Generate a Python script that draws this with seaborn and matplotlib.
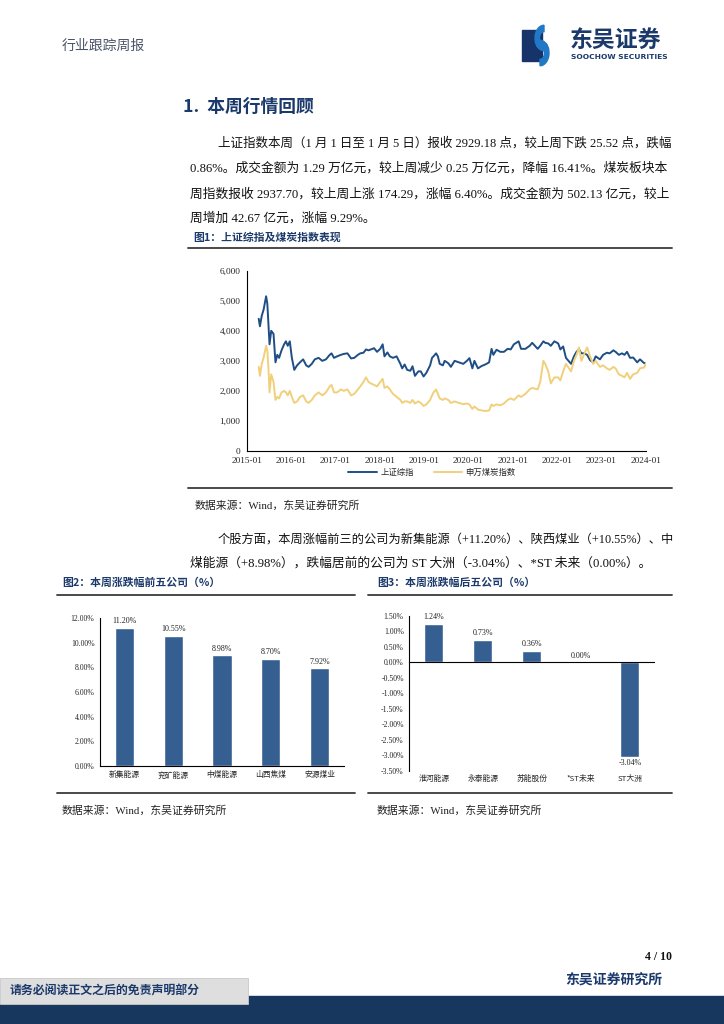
import matplotlib
matplotlib.use('Agg')
import matplotlib.pyplot as plt
import matplotlib.dates as mdates
from matplotlib.patches import Rectangle, Wedge
import seaborn as sns
import pandas as pd
import numpy as np

# --- dados ---
dates = ['2015-04-10', '2015-04-20', '2015-05-05', '2015-05-20', '2015-06-10', '2015-06-20',
         '2015-07-01', '2015-07-08', '2015-07-22', '2015-08-10', '2015-08-26', '2015-09-10',
         '2015-09-25', '2015-10-15', '2015-11-05', '2015-11-20', '2015-12-05', '2015-12-22',
         '2016-01-08', '2016-01-28', '2016-02-20', '2016-03-15', '2016-04-10', '2016-05-05',
         '2016-05-25', '2016-06-20', '2016-07-15', '2016-08-15', '2016-09-15', '2016-10-15',
         '2016-11-15', '2016-11-30', '2016-12-20', '2017-01-15', '2017-02-15', '2017-03-10',
         '2017-04-10', '2017-05-10', '2017-06-05', '2017-07-05', '2017-07-25', '2017-08-20',
         '2017-09-10', '2017-09-30', '2017-10-20', '2017-11-15', '2017-12-10', '2018-01-05',
         '2018-01-25', '2018-02-09', '2018-03-05', '2018-03-25', '2018-04-20', '2018-05-20',
         '2018-06-20', '2018-07-05', '2018-07-25', '2018-08-15', '2018-09-10', '2018-09-28',
         '2018-10-18', '2018-11-15', '2018-12-05', '2018-12-28', '2019-01-20', '2019-02-20',
         '2019-03-08', '2019-03-20', '2019-04-10', '2019-04-25', '2019-05-10', '2019-06-05',
         '2019-06-20', '2019-07-20', '2019-08-10', '2019-09-10', '2019-10-15', '2019-11-20',
         '2019-12-20', '2020-01-10', '2020-02-03', '2020-02-20', '2020-03-20', '2020-04-20',
         '2020-05-20', '2020-06-20', '2020-07-10', '2020-07-25', '2020-08-20', '2020-09-20',
         '2020-10-20', '2020-11-20', '2020-12-15', '2021-01-10', '2021-02-18', '2021-03-10',
         '2021-04-15', '2021-05-20', '2021-06-10', '2021-07-25', '2021-08-15', '2021-09-10',
         '2021-09-25', '2021-10-20', '2021-11-10', '2021-12-10', '2022-01-10', '2022-01-28',
         '2022-02-20', '2022-03-15', '2022-04-26', '2022-05-20', '2022-06-10', '2022-07-01',
         '2022-07-20', '2022-08-15', '2022-09-05', '2022-09-30', '2022-10-25', '2022-11-15',
         '2022-12-20', '2023-01-15', '2023-02-15', '2023-03-10', '2023-04-10', '2023-04-28',
         '2023-05-25', '2023-06-20', '2023-07-10', '2023-07-31', '2023-08-25', '2023-09-20',
         '2023-10-23', '2023-11-15', '2023-12-20', '2024-01-05']

sh_index = [4400, 4150, 4500, 4700, 5150, 4900,
            4100, 3550, 4000, 3900, 2950, 3200,
            3100, 3350, 3550, 3650, 3500, 3650,
            3100, 2700, 2850, 2950, 3050, 2850,
            2800, 2900, 3050, 3100, 3000, 3050,
            3200, 3250, 3100, 3150, 3200, 3230,
            3250, 3080, 3100, 3200, 3250, 3270,
            3380, 3350, 3380, 3420, 3300, 3400,
            3550, 3150, 3280, 3150, 3100, 3150,
            2900, 2750, 2880, 2700, 2670, 2820,
            2500, 2650, 2650, 2480, 2600, 2850,
            3100, 3150, 3250, 3150, 2900, 2850,
            3000, 2920, 2800, 3000, 2950, 2900,
            3000, 3090, 2750, 3000, 2750, 2830,
            2880, 2950, 3400, 3200, 3370, 3300,
            3300, 3400, 3380, 3550, 3650, 3400,
            3400, 3500, 3600, 3400, 3500, 3650,
            3600, 3580, 3500, 3650, 3580, 3380,
            3480, 3100, 2900, 3150, 3300, 3380,
            3250, 3250, 3200, 3020, 2950, 3150,
            3050, 3200, 3270, 3250, 3350, 3300,
            3200, 3250, 3200, 3300, 3100, 3110,
            2950, 3050, 2920, 2929]

coal_index = [2800, 2500, 2900, 3100, 3500, 3350,
              2600, 1950, 2550, 2300, 1700, 1800,
              1750, 1950, 2000, 1950, 1850, 2000,
              1800, 1600, 1650, 1800, 1850, 1650,
              1600, 1700, 1850, 1950, 1850, 1950,
              2150, 2200, 1950, 1950, 2050, 2000,
              2050, 1850, 1900, 2050, 2150, 2300,
              2450, 2300, 2250, 2200, 2150, 2300,
              2400, 2100, 2150, 2050, 1900, 1800,
              1700, 1600, 1650, 1650, 1600, 1700,
              1580, 1650, 1600, 1500, 1550, 1700,
              1850, 1950, 2050, 1900, 1750, 1700,
              1750, 1700, 1600, 1650, 1600, 1560,
              1580, 1550, 1400, 1480, 1380, 1350,
              1330, 1350, 1550, 1500, 1550, 1520,
              1580, 1700, 1750, 1700, 1850, 1800,
              1900, 2050, 2100, 2050, 2300, 3000,
              2900, 2650, 2250, 2450, 2450, 2350,
              2650, 2900, 2650, 3000, 3200, 3450,
              3000, 3250, 3450, 3150, 2900, 3000,
              2800, 2850, 2750, 2700, 2800, 2750,
              2550, 2500, 2450, 2600, 2400, 2550,
              2600, 2750, 2780, 2938]

top5_names = ['新集能源', '兖矿能源', '中煤能源', '山西焦煤', '安源煤业']
top5_pct = [11.20, 10.55, 8.98, 8.70, 7.92]

bottom5_names = ['淮河能源', '永泰能源', '苏能股份', '*ST未来', 'ST大洲']
bottom5_pct = [1.24, 0.73, 0.36, 0.00, -3.04]

para1 = ['上证指数本周（1 月 1 日至 1 月 5 日）报收 2929.18 点，较上周下跌 25.52 点，跌幅',
         '0.86%。成交金额为 1.29 万亿元，较上周减少 0.25 万亿元，降幅 16.41%。煤炭板块本',
         '周指数报收 2937.70，较上周上涨 174.29，涨幅 6.40%。成交金额为 502.13 亿元，较上',
         '周增加 42.67 亿元，涨幅 9.29%。']
para2 = ['个股方面，本周涨幅前三的公司为新集能源（+11.20%）、陕西煤业（+10.55%）、中',
         '煤能源（+8.98%），跌幅居前的公司为 ST 大洲（-3.04%）、*ST 未来（0.00%）。']

# --- estilo ---
sns.set_theme(style='white')
plt.rcParams['font.family'] = ['Noto Sans CJK SC', 'DejaVu Sans']
plt.rcParams['axes.unicode_minus'] = False

NAVY = '#1b3a6b'
BAR = '#365f91'
BODY = ['Liberation Serif', 'Noto Sans CJK SC']
NUM = 'Liberation Serif'

W, H = 724, 1024
fig = plt.figure(figsize=(7.24, 10.24), dpi=100)


def box(l, t, r, b):
    return [l / W, 1 - b / H, (r - l) / W, (b - t) / H]


def txt(x, y, s, **kw):
    kw.setdefault('va', 'center')
    return fig.text(x / W, 1 - y / H, s, **kw)


def body_line(x, y, s, right=672, size=9.2):
    # encolhe a linha se passar da margem direita
    t = txt(x, y, s, fontsize=size, color='#111111', family=BODY)
    r = fig.canvas.get_renderer()
    wpx = t.get_window_extent(renderer=r).width
    if x + wpx > right:
        t.set_fontsize(size * (right - x) / wpx)


def hline(x0, x1, y, lw=1.3, color='#3a3a3a'):
    fig.add_artist(plt.Line2D([x0 / W, x1 / W], [1 - y / H, 1 - y / H], lw=lw, color=color))


# --- cabeçalho ---
txt(62, 46, '行业跟踪周报', fontsize=10, color='#4a5368')
fig.add_artist(Rectangle((522 / W, 1 - 61 / H), 20 / W, 31 / H, color='#16336a', transform=fig.transFigure))
fig.add_artist(Wedge((544 / W, 1 - 38 / H), 9 / W, 90, 300, width=4.5 / W, color='#2178c4', transform=fig.transFigure))
fig.add_artist(Wedge((540 / W, 1 - 53 / H), 9 / W, 270, 120, width=4.5 / W, color='#2178c4', transform=fig.transFigure))
txt(570, 40, '东吴证券', fontsize=16.5, fontweight='bold', color=NAVY)
txt(571, 57, 'SOOCHOW SECURITIES', fontsize=5.4, fontweight='bold', color=NAVY, family='DejaVu Sans')

# --- texto ---
txt(183, 107, '1.  本周行情回顾', fontsize=12.8, fontweight='bold', color=NAVY)
ys = [143, 168, 194, 218]
for i, line in enumerate(para1):
    body_line(218 if i == 0 else 190, ys[i], line)

txt(193, 237, '图1：上证综指及煤炭指数表现', fontsize=7.8, fontweight='bold', color=NAVY)
hline(188, 672, 248)

# --- gráfico 1: linhas ---
df_line = pd.DataFrame({'date': pd.to_datetime(dates), 'sh': sh_index, 'coal': coal_index})
ax1 = fig.add_axes(box(246.7, 270.7, 645.7, 451))
sns.lineplot(data=df_line, x='date', y='sh', ax=ax1, color='#1f4e85', lw=1.4, label='上证综指')
sns.lineplot(data=df_line, x='date', y='coal', ax=ax1, color='#f1d07c', lw=1.4, label='申万煤炭指数')
ax1.set_xlim(pd.Timestamp('2015-01-01'), pd.Timestamp('2024-01-01'))
ax1.set_ylim(0, 6000)
ax1.set_yticks(np.arange(0, 6001, 1000))
ax1.yaxis.set_major_formatter(lambda v, p: f'{v:,.0f}')
ax1.xaxis.set_major_locator(mdates.YearLocator())
ax1.xaxis.set_major_formatter(mdates.DateFormatter('%Y-%m'))
ax1.set_xlabel('')
ax1.set_ylabel('')
for s in ['top', 'right']:
    ax1.spines[s].set_visible(False)
for s in ['left', 'bottom']:
    ax1.spines[s].set_color('black')
    ax1.spines[s].set_linewidth(0.8)
ax1.tick_params(axis='both', direction='out', length=3, width=0.8, color='black', labelsize=6.7, pad=1.5)
for lab in ax1.get_xticklabels() + ax1.get_yticklabels():
    lab.set_family(NUM)
ax1.legend(loc='center', bbox_to_anchor=(432 / W, 1 - 472.5 / H), bbox_transform=fig.transFigure,
           ncol=2, frameon=False, fontsize=6.0, handlelength=3.4, columnspacing=2.4, handletextpad=0.4,
           borderpad=0.1)

hline(188, 672, 488)
txt(195, 506, '数据来源：Wind，东吴证券研究所', fontsize=7.8, color='#222222', family=BODY)

ys2 = [540, 563]
for i, line in enumerate(para2):
    body_line(218 if i == 0 else 190, ys2[i], line)

txt(62, 583, '图2：本周涨跌幅前五公司（%）', fontsize=7.8, fontweight='bold', color=NAVY)
txt(377, 583, '图3：本周涨跌幅后五公司（%）', fontsize=7.8, fontweight='bold', color=NAVY)
hline(57, 355, 595)
hline(368, 672, 595)

# --- gráfico 2: barras positivas ---
ax2 = fig.add_axes(box(100, 618.3, 344, 765.7))
df2 = pd.DataFrame({'name': top5_names, 'pct': top5_pct})
sns.barplot(data=df2, x='name', y='pct', ax=ax2, color=BAR, width=0.39, saturation=1)
ax2.set_xlim(-0.5, 4.5)
ax2.set_ylim(0, 12)
ax2.set_yticks(np.arange(0, 12.01, 2))
ax2.yaxis.set_major_formatter(lambda v, p: f'{v:.2f}%')
ax2.bar_label(ax2.containers[0], labels=[f'{v:.2f}%' for v in top5_pct], padding=2,
              fontsize=5.8, family=NUM, color='#222222')

# --- gráfico 3: barras com negativos ---
ax3 = fig.add_axes(box(409.3, 615.7, 654.3, 771))
df3 = pd.DataFrame({'name': bottom5_names, 'pct': bottom5_pct})
sns.barplot(data=df3, x='name', y='pct', ax=ax3, color=BAR, width=0.39, saturation=1)
ax3.set_xlim(-0.5, 4.5)
ax3.set_ylim(-3.5, 1.5)
ax3.set_yticks(np.arange(-3.5, 1.51, 0.5))
ax3.yaxis.set_major_formatter(lambda v, p: f'{v:.2f}%')
ax3.spines['bottom'].set_position(('data', 0))
ax3.bar_label(ax3.containers[0], labels=[f'{v:.2f}%' for v in bottom5_pct], padding=2,
              fontsize=5.8, family=NUM, color='#222222')

for ax in (ax2, ax3):
    ax.set_xlabel('')
    ax.set_ylabel('')
    for s in ['top', 'right']:
        ax.spines[s].set_visible(False)
    for s in ['left', 'bottom']:
        ax.spines[s].set_color('black')
        ax.spines[s].set_linewidth(0.8)
    ax.set_xticks(np.arange(-0.5, 4.6, 1), minor=True)
    ax.tick_params(axis='x', which='major', length=0, labelsize=5.6, pad=4)
    ax.tick_params(axis='x', which='minor', direction='out', length=3, width=0.8, color='black')
    ax.tick_params(axis='y', direction='out', length=2.5, width=0.8, color='black', labelsize=5.6, pad=1.5)
    for lab in ax.get_yticklabels():
        lab.set_family(NUM)

# etiquetas das categorias do gráfico 3 ficam no fundo
ax3.tick_params(axis='x', which='major', pad=81)

hline(57, 355, 793)
hline(368, 672, 793)
txt(62, 811, '数据来源：Wind，东吴证券研究所', fontsize=7.8, color='#222222', family=BODY)
txt(377, 811, '数据来源：Wind，东吴证券研究所', fontsize=7.8, color='#222222', family=BODY)

# --- rodapé ---
txt(672, 957, '4 / 10', fontsize=8.5, fontweight='bold', color='#111111', family=NUM, ha='right')
txt(662, 981, '东吴证券研究所', fontsize=10, fontweight='bold', color=NAVY, ha='right')
fig.add_artist(Rectangle((248 / W, 0), 1 - 248 / W, 28 / H, color='#17375e', transform=fig.transFigure))
fig.add_artist(Rectangle((0, 0), 248 / W, 20 / H, color='#17375e', transform=fig.transFigure))
fig.add_artist(Rectangle((0, 20 / H), 248 / W, 26 / H, facecolor='#dedede', edgecolor='#c8c8c8',
                         lw=0.6, transform=fig.transFigure))
txt(10, 991, '请务必阅读正文之后的免责声明部分', fontsize=8.6, fontweight='bold', color=NAVY)

fig.savefig('out.png', dpi=100)
